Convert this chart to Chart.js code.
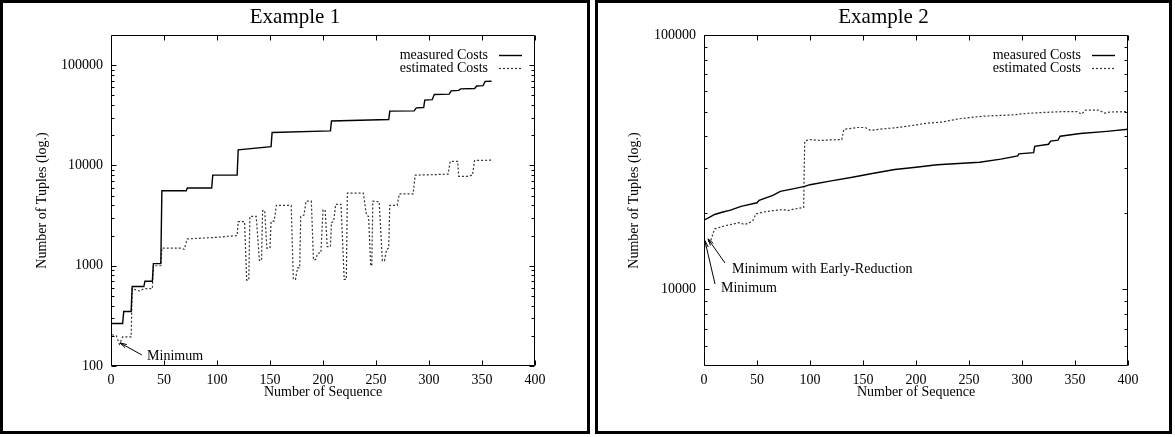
<!DOCTYPE html>
<html><head><meta charset="utf-8">
<script src="https://cdn.jsdelivr.net/npm/chart.js@4.4.1/dist/chart.umd.min.js"></script>
<style>
html,body{margin:0;padding:0;background:#fff;}
body{width:1175px;height:437px;position:relative;overflow:hidden;font-family:'Liberation Serif',serif;}
.panel{position:absolute;top:0;height:434px;border:3px solid #000;box-sizing:border-box;background:#fff;}
#p1{left:0;width:590px;}
#p2{left:595px;width:577px;}
.title{position:absolute;top:1px;left:0;right:0;text-align:center;font-size:21px;line-height:24px;color:#000;font-family:'Liberation Serif',serif;}
canvas{position:absolute;left:0;top:0;}
</style></head><body>
<div class="panel" id="p1"><canvas id="c1" width="584" height="428"></canvas><div class="title">Example 1</div></div>
<div class="panel" id="p2"><canvas id="c2" width="571" height="428"></canvas><div class="title">Example 2</div></div>
<script>
// ---------- data: Example 1 ----------
const ex1MeasuredX = [1, 11, 12, 19, 20, 31, 32, 39, 40, 47, 48, 71, 72, 95, 96, 119, 120, 151, 152, 207, 208, 262, 263, 286, 288, 295, 296, 303, 305, 319, 321, 328, 330, 343, 345, 351, 353, 359];
const ex1MeasuredY = [265, 265, 350, 350, 620, 620, 700, 700, 1050, 1050, 5600, 5600, 5950, 5950, 8000, 8000, 14300, 15400, 21300, 22100, 27800, 28700, 34800, 35000, 37500, 37800, 44900, 45300, 51000, 51500, 55500, 56000, 58000, 58500, 62000, 62500, 69000, 69200];
const ex1EstimatedX = [1, 5, 8, 11, 19, 20, 27, 31, 39, 40, 47, 48, 66, 69, 72, 100, 119, 120, 126, 128, 130, 131, 137, 140, 142, 143, 145, 147, 150, 151, 154, 156, 170, 172, 174, 176, 178, 179, 182, 184, 189, 191, 193, 195, 198, 200, 202, 204, 207, 208, 210, 212, 217, 220, 222, 223, 238, 241, 243, 245, 246, 247, 253, 256, 258, 260, 262, 263, 270, 272, 285, 287, 305, 318, 320, 327, 328, 336, 341, 343, 359];
const ex1EstimatedY = [205, 200, 165, 195, 195, 590, 560, 590, 590, 1000, 1000, 1500, 1500, 1460, 1850, 1920, 2000, 2750, 2750, 720, 720, 3100, 3100, 1130, 1130, 3550, 3550, 1500, 1500, 2750, 2800, 4000, 4000, 730, 730, 950, 950, 3100, 3200, 4400, 4400, 1150, 1150, 1330, 1350, 3600, 3600, 1550, 1550, 2700, 2750, 4100, 4100, 730, 730, 5300, 5300, 3200, 3100, 1000, 1000, 4400, 4350, 1120, 1120, 1450, 1500, 4000, 4000, 5200, 5200, 8000, 8100, 8200, 11000, 11000, 7800, 7800, 8000, 11200, 11300];
const ex1XTicks = [0, 50, 100, 150, 200, 250, 300, 350, 400];
const ex1YTicks = [100, 1000, 10000, 100000];
const ex1Notes = [{text: 'Minimum', x: 34, y: 126, tailX: 29, tailY: 129, headX: 8.5, headY: 170}];

// ---------- data: Example 2 ----------
const ex2MeasuredX = [0, 5, 10, 17, 25, 35, 50, 52, 65, 72, 85, 95, 100, 120, 140, 160, 180, 200, 220, 260, 280, 296, 297, 311, 312, 325, 327, 334, 336, 355, 380, 400];
const ex2MeasuredY = [18700, 19200, 19700, 20100, 20500, 21200, 21900, 22400, 23400, 24300, 24900, 25400, 25800, 26700, 27600, 28600, 29600, 30200, 30900, 31600, 32500, 33500, 34100, 34500, 36500, 37200, 38300, 38600, 40000, 41000, 41800, 42600];
const ex2EstimatedX = [0, 4, 6, 10, 20, 28, 33, 38, 42, 46, 49, 55, 65, 75, 79, 85, 94, 95, 100, 110, 120, 130, 132, 145, 152, 157, 165, 175, 185, 195, 210, 225, 240, 255, 265, 290, 305, 320, 340, 352, 356, 360, 372, 378, 383, 400];
const ex2EstimatedY = [15400, 15500, 15400, 17300, 17800, 18100, 18300, 18000, 18200, 18600, 19800, 20100, 20400, 20600, 20400, 20700, 21000, 38300, 38800, 38500, 38700, 38800, 42600, 43300, 43300, 42200, 42600, 43000, 43400, 44000, 45000, 45500, 46800, 47600, 48000, 48500, 49200, 49600, 50000, 50000, 48800, 50700, 50700, 49300, 49800, 50000];
const ex2XTicks = [0, 50, 100, 150, 200, 250, 300, 350, 400];
const ex2YTicks = [10000, 100000];
const ex2Notes = [
  {text: 'Minimum with Early-Reduction', x: 26.4, y: 12040, tailX: 19.8, tailY: 12700, headX: 3.8, headY: 15800},
  {text: 'Minimum', x: 16, y: 10130, tailX: 10.4, tailY: 10500, headX: 0.9, headY: 15520}
];

const seriesNames = ['measured Costs', 'estimated Costs'];

// ---------- helpers ----------
Chart.defaults.font.family = "'Liberation Serif', serif";
Chart.defaults.font.size = 14;
Chart.defaults.color = '#000';

function pts(xs, ys) { return xs.map((x, i) => ({x: x, y: ys[i]})); }

const gnuFrame = {
  id: 'gnuFrame',
  afterDatasetsDraw(chart, args, o) {
    const {ctx, chartArea: a} = chart;
    const x = chart.scales.x, y = chart.scales.y;
    ctx.save();
    ctx.strokeStyle = '#000';
    ctx.lineWidth = 1;
    ctx.setLineDash([]);
    const L = Math.round(a.left) + 0.5, R = Math.round(a.right) - 0.5, T = Math.round(a.top) + 0.5, B = Math.round(a.bottom) - 0.5;
    ctx.beginPath();
    ctx.rect(L, T, R - L, B - T);
    const seg = (x1, y1, x2, y2) => { ctx.moveTo(x1, y1); ctx.lineTo(x2, y2); };
    o.xTicks.forEach(v => {
      const p = Math.round(x.getPixelForValue(v)) + 0.5;
      seg(p, B, p, B - 5); seg(p, T, p, T + 5);
    });
    o.yTicks.forEach(v => {
      const p = Math.round(y.getPixelForValue(v)) + 0.5;
      seg(L, p, L + 5, p); seg(R, p, R - 5, p);
    });
    const lo = Math.floor(Math.log10(y.min)), hi = Math.ceil(Math.log10(y.max));
    for (let d = lo; d <= hi; d++) {
      for (let m = 2; m <= 9; m++) {
        const v = m * Math.pow(10, d);
        if (v <= y.min || v >= y.max) continue;
        const p = Math.round(y.getPixelForValue(v)) + 0.5;
        seg(L, p, L + 3, p); seg(R, p, R - 3, p);
      }
    }
    ctx.stroke();

    // legend (gnuplot style: text right-aligned, sample to its right)
    ctx.font = "14px 'Liberation Serif', serif";
    ctx.fillStyle = '#000';
    ctx.textAlign = 'right';
    ctx.textBaseline = 'middle';
    chart.data.datasets.forEach((ds, i) => {
      const yy = a.top + 20 + i * 13;
      ctx.fillText(ds.label, a.right - 47, yy);
      ctx.beginPath();
      ctx.strokeStyle = ds.borderColor;
      ctx.lineWidth = ds.borderWidth;
      ctx.setLineDash(ds.borderDash || []);
      ctx.moveTo(a.right - 36, Math.round(yy) + 0.5);
      ctx.lineTo(a.right - 13, Math.round(yy) + 0.5);
      ctx.stroke();
    });
    ctx.setLineDash([]);

    // annotations with arrows
    ctx.textAlign = 'left';
    ctx.strokeStyle = '#000';
    ctx.lineWidth = 1;
    o.notes.forEach(n => {
      ctx.fillText(n.text, x.getPixelForValue(n.x), y.getPixelForValue(n.y));
      const x1 = x.getPixelForValue(n.tailX), y1 = y.getPixelForValue(n.tailY);
      const x2 = x.getPixelForValue(n.headX), y2 = y.getPixelForValue(n.headY);
      const ang = Math.atan2(y2 - y1, x2 - x1);
      ctx.beginPath();
      ctx.moveTo(x1, y1); ctx.lineTo(x2, y2);
      const hl = 7, ha = 0.26;
      ctx.moveTo(x2 - hl * Math.cos(ang - ha), y2 - hl * Math.sin(ang - ha));
      ctx.lineTo(x2, y2);
      ctx.lineTo(x2 - hl * Math.cos(ang + ha), y2 - hl * Math.sin(ang + ha));
      ctx.stroke();
    });
    ctx.restore();
  }
};

function makeChart(id, cfg) {
  return new Chart(document.getElementById(id), {
    type: 'line',
    data: {
      datasets: [
        {label: seriesNames[0], data: pts(cfg.mx, cfg.my), borderColor: '#000', borderWidth: 1.4, pointRadius: 0, tension: 0, fill: false},
        {label: seriesNames[1], data: pts(cfg.ex, cfg.ey), borderColor: '#333', borderWidth: 1.2, borderDash: [2, 2], pointRadius: 0, tension: 0, fill: false}
      ]
    },
    options: {
      responsive: false,
      animation: false,
      devicePixelRatio: 1,
      layout: {padding: {left: cfg.padL, right: cfg.padR, top: 32, bottom: 30}},
      plugins: {
        legend: {display: false},
        tooltip: {enabled: false},
        gnuFrame: {xTicks: cfg.xTicks, yTicks: cfg.yTicks, notes: cfg.notes}
      },
      scales: {
        x: {
          type: 'linear', min: 0, max: 400,
          grid: {display: false, drawTicks: false},
          border: {display: false},
          ticks: {padding: 6, font: {size: 14}, color: '#000'},
          afterBuildTicks: s => { s.ticks = cfg.xTicks.map(v => ({value: v})); },
          afterFit: s => { s.height = 35; },
          title: {display: true, text: 'Number of Sequence', padding: 0, font: {size: 14}, color: '#000'}
        },
        y: {
          type: 'logarithmic', min: cfg.yMin, max: cfg.yMax,
          grid: {display: false, drawTicks: false},
          border: {display: false},
          ticks: {padding: 8, font: {size: 14}, color: '#000', callback: v => String(v)},
          afterBuildTicks: s => { s.ticks = cfg.yTicks.map(v => ({value: v})); },
          afterFit: s => { s.width = cfg.yW; },
          title: {display: true, text: 'Number of Tuples (log.)', padding: 0, font: {size: 14}, color: '#000'}
        }
      }
    },
    plugins: [gnuFrame]
  });
}

makeChart('c1', {
  mx: ex1MeasuredX, my: ex1MeasuredY, ex: ex1EstimatedX, ey: ex1EstimatedY,
  xTicks: ex1XTicks, yTicks: ex1YTicks, notes: ex1Notes,
  yMin: 100, yMax: 200000, padL: 31, yW: 77, padR: 52
});
makeChart('c2', {
  mx: ex2MeasuredX, my: ex2MeasuredY, ex: ex2EstimatedX, ey: ex2EstimatedY,
  xTicks: ex2XTicks, yTicks: ex2YTicks, notes: ex2Notes,
  yMin: 5000, yMax: 100000, padL: 28, yW: 78, padR: 41
});
</script>
</body></html>
